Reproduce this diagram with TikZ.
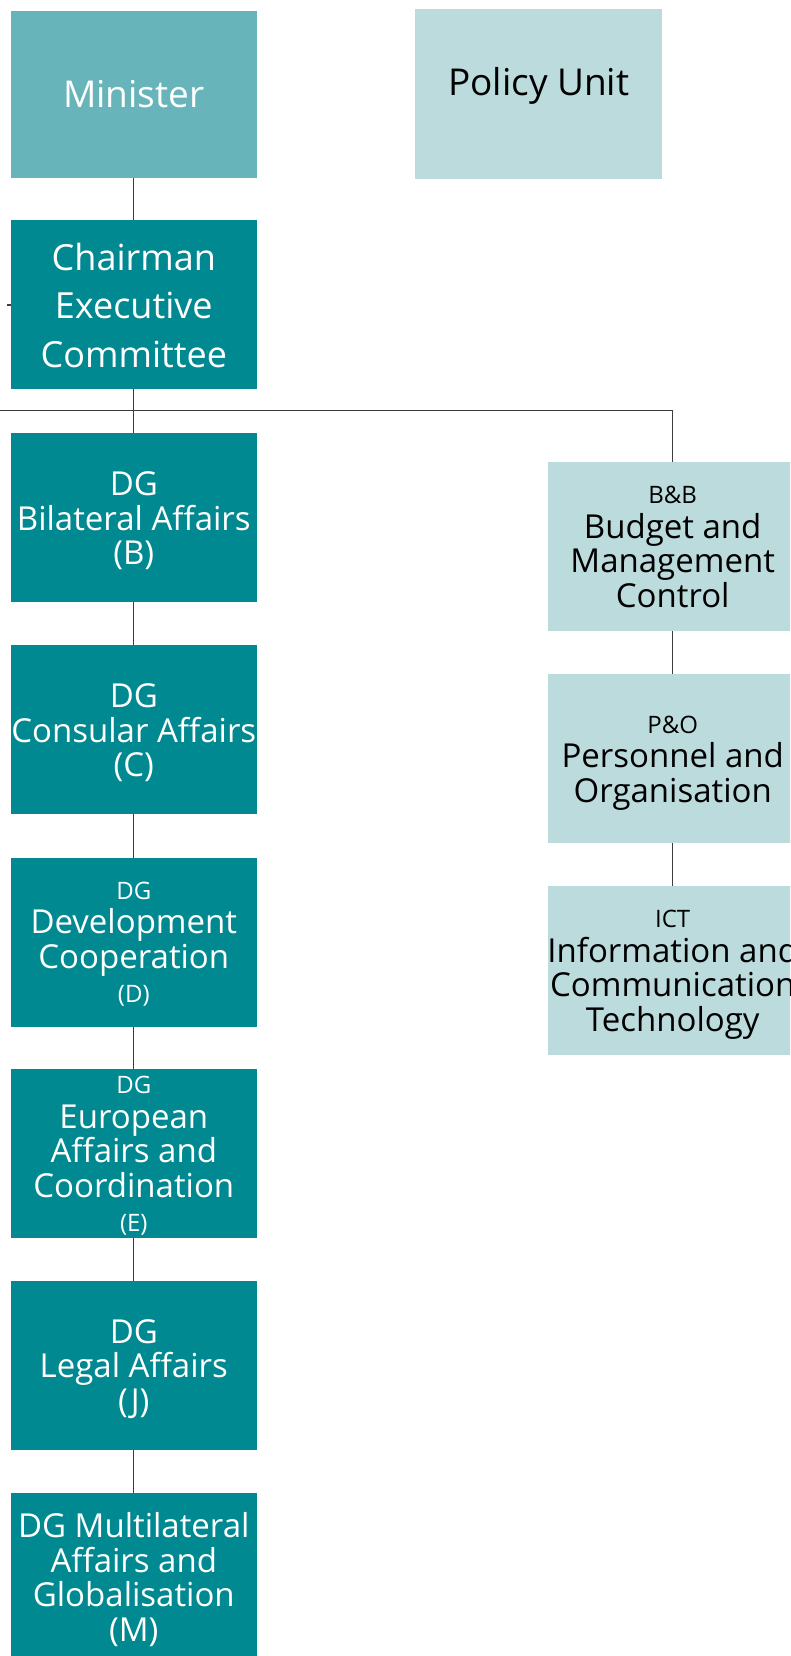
\documentclass[tikz,border=0pt]{standalone}
\usepackage{fontspec}
\setmainfont{Open Sans}
\definecolor{tealdark}{RGB}{0,137,145}
\definecolor{tealmid}{RGB}{103,181,186}
\definecolor{teallight}{RGB}{187,219,221}
\definecolor{conncol}{RGB}{60,60,60}
\newcommand\fbig{\fontsize{33}{34.5}\selectfont}
\newcommand\fsmall{\fontsize{24}{34.5}\selectfont}
\newcommand\zb[1]{\makebox[0pt]{#1}}
\begin{document}
\begin{tikzpicture}[x=1pt,y=-1pt,
  unitbox/.style={anchor=north west,inner sep=0pt,minimum width=246pt,minimum height=169pt},
  dgbox/.style={unitbox,fill=tealdark},
  supbox/.style={unitbox,fill=teallight,minimum width=249pt},
  txt/.style={inner sep=0pt,align=center,font=\fbig},
  wtxt/.style={txt,text=white},
  btxt/.style={txt,text=black},
  conn/.style={draw=conncol,line width=1.1pt}]
\useasboundingbox (0,0) rectangle (790,1656);
\clip (0,0) rectangle (790,1656);
% top
\node[unitbox,fill=tealmid,minimum height=167pt] (min) at (10.6,10.6) {};
\node[wtxt,font=\fontsize{37}{40}\selectfont] (mint) at (min.center) {Minister};
\node[unitbox,fill=teallight,minimum height=170pt,minimum width=247pt] (pu) at (415,8.4) {};
\node[btxt,font=\fontsize{37}{40}\selectfont] (put) at ([yshift=7.3pt]pu.center) {Policy Unit};
\node[dgbox] (chair) at (10.6,219.7) {};
\node[wtxt,font=\fontsize{36}{48.5}\selectfont] (chairt) at ([yshift=-1pt]chair.center) {\zb{Chairman}\\\zb{Executive}\\\zb{Committee}};
% left column
\node[dgbox] (dgB) at (10.6,433) {};
\node[wtxt] (dgBt) at ([yshift=-3.2pt]dgB.center) {\zb{DG}\\\zb{Bilateral Affairs}\\\zb{(B)}};
\node[dgbox] (dgC) at (10.6,645) {};
\node[wtxt] (dgCt) at ([yshift=-3.2pt]dgC.center) {\zb{DG}\\\zb{Consular Affairs}\\\zb{(C)}};
\node[dgbox] (dgD) at (10.6,857.5) {};
\node[wtxt] (dgDt) at ([yshift=-2.1pt]dgD.center) {\zb{\fsmall DG}\\\zb{Development}\\\zb{Cooperation}\\\zb{\fsmall (D)}};
\node[dgbox] (dgE) at (10.6,1069) {};
\node[wtxt] (dgEt) at ([yshift=-2.1pt]dgE.center) {\zb{\fsmall DG}\\\zb{European}\\\zb{Affairs and}\\\zb{Coordination}\\\zb{\fsmall (E)}};
\node[dgbox] (dgJ) at (10.6,1281) {};
\node[wtxt] (dgJt) at ([yshift=-3.2pt]dgJ.center) {\zb{DG}\\\zb{Legal Affairs}\\\zb{(J)}};
\node[dgbox] (dgM) at (10.6,1493) {};
\node[wtxt] (dgMt) at ([yshift=-2.1pt]dgM.center) {\zb{DG Multilateral}\\\zb{Affairs and}\\\zb{Globalisation}\\\zb{(M)}};
% right column
\node[supbox] (bb) at (548,461.5) {};
\node[btxt] (bbt) at ([yshift=-1pt]bb.center) {\zb{\fsmall B\&B}\\\zb{Budget and}\\\zb{Management}\\\zb{Control}};
\node[supbox] (po) at (548,674) {};
\node[btxt] (pot) at ([yshift=-4.2pt]po.center) {\zb{\fsmall P\&O}\\\zb{Personnel and}\\\zb{Organisation}};
\node[supbox] (ict) at (548,886) {};
\node[btxt] (ictt) at ([yshift=-4.2pt]ict.center) {\zb{\fsmall ICT}\\\zb{Information and}\\\zb{Communication}\\\zb{Technology}};
% connectors
\coordinate (busL) at (0,410.8);
\coordinate (tick) at (7,305);
\draw[conn] (min.south) -- (chair.north);
\draw[conn] (chair.south) -- (dgB.north);
\draw[conn] (busL) -- (busL -| bb.north) -- (bb.north);
\draw[conn] (tick) -- (tick -| chair.west);
\draw[conn] (dgB.south) -- (dgC.north);
\draw[conn] (dgC.south) -- (dgD.north);
\draw[conn] (dgD.south) -- (dgE.north);
\draw[conn] (dgE.south) -- (dgJ.north);
\draw[conn] (dgJ.south) -- (dgM.north);
\draw[conn] (bb.south) -- (po.north);
\draw[conn] (po.south) -- (ict.north);
\end{tikzpicture}
\end{document}
